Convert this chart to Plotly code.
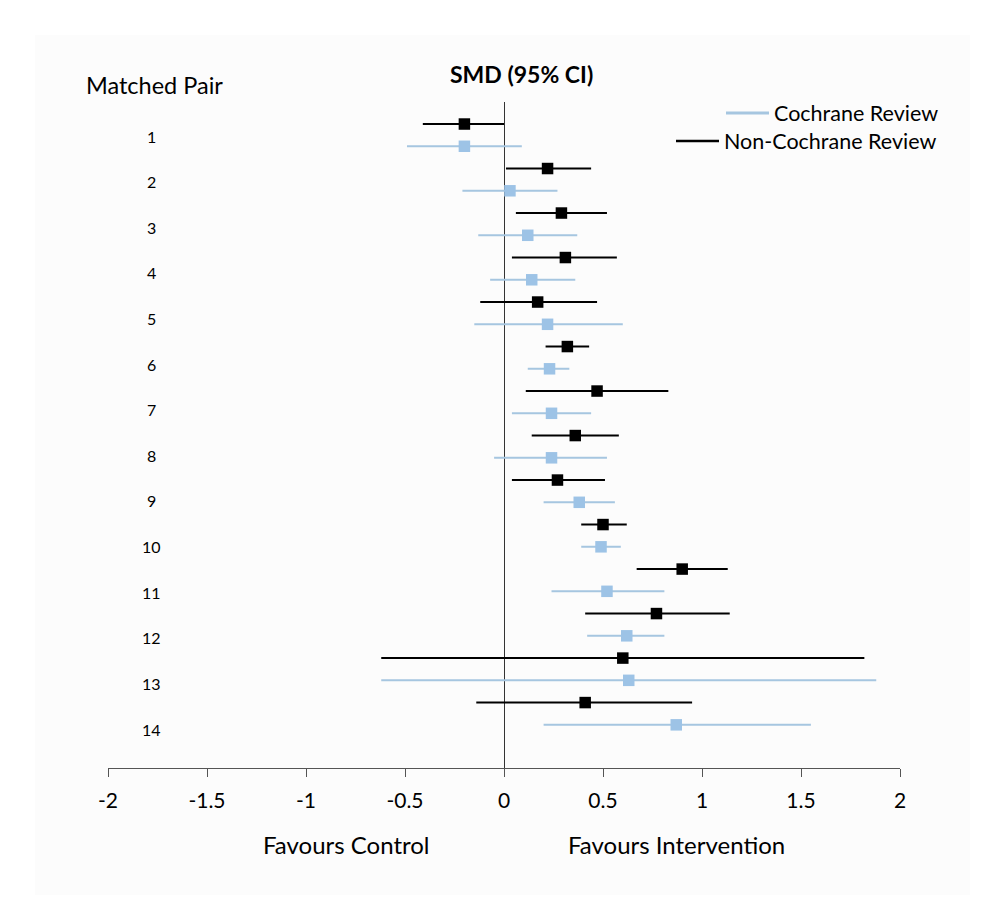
import plotly.graph_objects as go

# ---- data ----
pairs = list(range(1, 15))
nc_smd = [-0.20, 0.22, 0.29, 0.31, 0.17, 0.32, 0.47, 0.36, 0.27, 0.50, 0.90, 0.77, 0.60, 0.41]
nc_lo = [-0.41, 0.01, 0.06, 0.04, -0.12, 0.21, 0.11, 0.14, 0.04, 0.39, 0.67, 0.41, -0.62, -0.14]
nc_hi = [0.00, 0.44, 0.52, 0.57, 0.47, 0.43, 0.83, 0.58, 0.51, 0.62, 1.13, 1.14, 1.82, 0.95]
c_smd = [-0.20, 0.03, 0.12, 0.14, 0.22, 0.23, 0.24, 0.24, 0.38, 0.49, 0.52, 0.62, 0.63, 0.87]
c_lo = [-0.49, -0.21, -0.13, -0.07, -0.15, 0.12, 0.04, -0.05, 0.20, 0.39, 0.24, 0.42, -0.62, 0.20]
c_hi = [0.09, 0.27, 0.37, 0.36, 0.60, 0.33, 0.44, 0.52, 0.56, 0.59, 0.81, 0.81, 1.88, 1.55]
x_tick_vals = [-2, -1.5, -1, -0.5, 0, 0.5, 1, 1.5, 2]
x_tick_text = ["-2", "-1.5", "-1", "-0.5", "0", "0.5", "1", "1.5", "2"]

FONT = "Lato"
BLUE_MARK = "#9DC3E6"
BLUE_LINE = "#A6C6E0"
BLACK = "#000000"

# row positions: each pair occupies two rows (non-Cochrane above, Cochrane below)
nc_y = [2 * (p - 1) for p in pairs]
c_y = [2 * (p - 1) + 1 for p in pairs]
label_y = [0.54 + 2.05 * (p - 1) for p in pairs]

fig = go.Figure()

fig.add_trace(go.Scatter(
    x=c_smd, y=c_y, mode="markers",
    marker=dict(symbol="square", size=11.5, color=BLUE_MARK),
    error_x=dict(type="data", symmetric=False,
                 array=[h - m for h, m in zip(c_hi, c_smd)],
                 arrayminus=[m - l for m, l in zip(c_smd, c_lo)],
                 color=BLUE_LINE, thickness=2, width=0),
    showlegend=False, name="Cochrane Review"))

fig.add_trace(go.Scatter(
    x=nc_smd, y=nc_y, mode="markers",
    marker=dict(symbol="square", size=11.5, color=BLACK),
    error_x=dict(type="data", symmetric=False,
                 array=[h - m for h, m in zip(nc_hi, nc_smd)],
                 arrayminus=[m - l for m, l in zip(nc_smd, nc_lo)],
                 color=BLACK, thickness=2, width=0),
    showlegend=False, name="Non-Cochrane Review"))

# legend entries (lines only)
fig.add_trace(go.Scatter(x=[None], y=[None], mode="lines",
                         line=dict(color=BLUE_LINE, width=3),
                         name="Cochrane Review", legend="legend"))
fig.add_trace(go.Scatter(x=[None], y=[None], mode="lines",
                         line=dict(color=BLACK, width=2.5),
                         name="Non-Cochrane Review", legend="legend2"))

annotations = []
for p, ly in zip(pairs, label_y):
    annotations.append(dict(x=-1.778, y=ly, xref="x", yref="y", text=str(p),
                            showarrow=False, xanchor="center", yanchor="middle",
                            font=dict(family=FONT, size=16, color="#000")))

annotations += [
    dict(x=-1.763, y=1.0255, xref="x", yref="paper", text="Matched Pair",
         showarrow=False, xanchor="center", yanchor="middle",
         font=dict(family=FONT, size=23.5, color="#000")),
    dict(x=0.086, y=1.042, xref="x", yref="paper", text="<b>SMD (95% CI)</b>",
         showarrow=False, xanchor="center", yanchor="middle",
         font=dict(family=FONT, size=23, color="#000")),
    dict(x=-0.793, y=-0.1156, xref="x", yref="paper", text="Favours Control",
         showarrow=False, xanchor="center", yanchor="middle",
         font=dict(family=FONT, size=24, color="#000")),
    dict(x=0.870, y=-0.1156, xref="x", yref="paper", text="Favours Intervention",
         showarrow=False, xanchor="center", yanchor="middle",
         font=dict(family=FONT, size=24, color="#000")),
]

fig.update_layout(
    width=1007, height=914,
    margin=dict(l=108, r=107, t=102, b=146),
    paper_bgcolor="#ffffff",
    plot_bgcolor="rgba(0,0,0,0)",
    font=dict(family=FONT, size=21, color="#000"),
    annotations=annotations,
    shapes=[dict(type="rect", xref="paper", yref="paper",
                 x0=-73 / 792, x1=862 / 792, y0=-127 / 666, y1=733 / 666,
                 fillcolor="#fcfcfc", line=dict(width=0), layer="below")],
    legend=dict(x=(721 - 108) / 792, y=(768 - 113) / 666, xanchor="left", yanchor="middle",
                bgcolor="rgba(0,0,0,0)", font=dict(family=FONT, size=21.5, color="#000"),
                itemwidth=43),
    legend2=dict(x=(671 - 108) / 792, y=(768 - 141) / 666, xanchor="left", yanchor="middle",
                 bgcolor="rgba(0,0,0,0)", font=dict(family=FONT, size=21.5, color="#000"),
                 itemwidth=43),
    xaxis=dict(range=[-2, 2], tickvals=x_tick_vals, ticktext=x_tick_text,
               showgrid=False, zeroline=True, zerolinecolor="#333333", zerolinewidth=1.3,
               showline=True, linecolor="#555555", linewidth=1.3,
               ticks="outside", ticklen=8, tickcolor="#555555", tickwidth=1.3,
               ticklabelstandoff=6,
               tickfont=dict(family=FONT, size=21, color="#000")),
    yaxis=dict(range=[28.94, -0.99], showgrid=False, zeroline=False,
               showticklabels=False, showline=False, ticks=""),
)

fig.write_html("out.html")
